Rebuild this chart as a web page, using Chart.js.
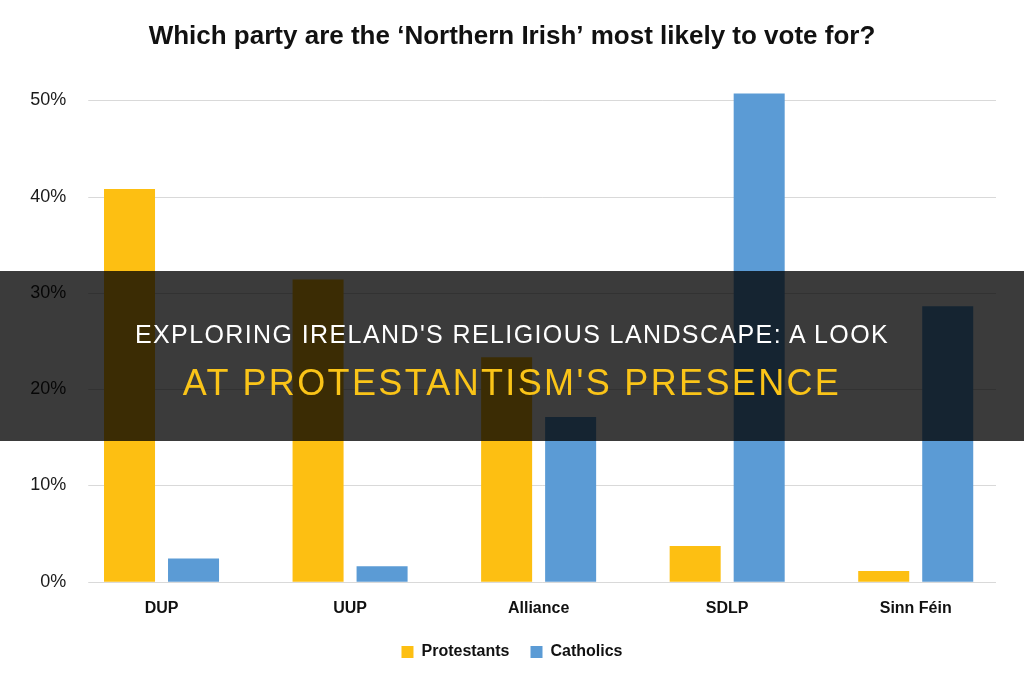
<!DOCTYPE html>
<html>
<head>
<meta charset="utf-8">
<script src="https://cdn.jsdelivr.net/npm/chart.js@4"></script>
<style>
  html, body { margin: 0; padding: 0; background: #fff; }
  #wrap { position: relative; width: 1024px; height: 680px; overflow: hidden; }
  #chart { display: block; }
  #banner {
    position: absolute; left: 0; top: 271px; width: 1024px; height: 170px;
    background: rgba(0, 0, 0, 0.77); text-align: center;
    font-family: "Liberation Sans", Arial, sans-serif;
  }
  #banner .l1 { position: absolute; left: 0; right: 0; top: 48px; color: #fff; font-size: 25px; line-height: 30px; letter-spacing: 1.4px; }
  #banner .l2 { position: absolute; left: 0; right: 0; top: 90px; color: #fac418; font-size: 36px; line-height: 44px; letter-spacing: 2.35px; }
</style>
</head>
<body>
<div id="wrap">
  <canvas id="chart" width="1024" height="680"></canvas>
  <div id="banner">
    <div class="l1">EXPLORING IRELAND'S RELIGIOUS LANDSCAPE: A LOOK</div>
    <div class="l2">AT PROTESTANTISM'S PRESENCE</div>
  </div>
</div>
<script>
  const parties = ["DUP", "UUP", "Alliance", "SDLP", "Sinn Féin"];
  const protestants = [40.8, 31.4, 23.3, 3.7, 1.1];
  const catholics = [2.4, 1.6, 17.1, 50.7, 28.6];
  const yTicks = [0, 10, 20, 30, 40, 50];

  const FONT = "'Liberation Sans', Arial, sans-serif";

  // horizontal gridlines, a bit shorter than the category area
  const gridPlugin = {
    id: "shortGrid",
    beforeDatasetsDraw(chart) {
      const { ctx, chartArea } = chart;
      const y = chart.scales.y;
      ctx.save();
      ctx.strokeStyle = "#d9d9d9";
      ctx.lineWidth = 1;
      yTicks.forEach((t) => {
        const py = Math.round(y.getPixelForValue(t)) + 0.5;
        ctx.beginPath();
        ctx.moveTo(chartArea.left + 21, py);
        ctx.lineTo(chartArea.right - 14, py);
        ctx.stroke();
      });
      ctx.restore();
    },
  };

  new Chart(document.getElementById("chart"), {
    type: "bar",
    data: {
      labels: parties,
      datasets: [
        { label: "Protestants", data: protestants, backgroundColor: "#fdbf12", clip: false },
        { label: "Catholics", data: catholics, backgroundColor: "#5b9bd5", clip: false },
      ],
    },
    plugins: [gridPlugin],
    options: {
      responsive: false,
      animation: false,
      categoryPercentage: 0.679,
      barPercentage: 0.797,
      layout: { padding: { left: 0, right: 0, top: 0, bottom: 10 } },
      scales: {
        x: {
          grid: { display: false, drawTicks: false },
          border: { display: false },
          afterFit(scale) { scale.height = 41.3; },
          ticks: {
            color: "#111",
            padding: 17.7,
            font: { family: FONT, size: 16, weight: "bold" },
          },
        },
        y: {
          min: 0,
          max: 50,
          grid: { display: false, drawTicks: false },
          border: { display: false },
          afterFit(scale) { scale.width = 67.25; },
          afterBuildTicks(scale) { scale.ticks = yTicks.map((v) => ({ value: v })); },
          ticks: {
            color: "#1a1a1a",
            padding: 1,
            callback: (v) => v + "%",
            font: { family: FONT, size: 18 },
          },
        },
        // empty spacer on the right so the plot ends before the canvas edge
        spacer: {
          type: "linear",
          position: "right",
          grid: { display: false, drawTicks: false },
          border: { display: false },
          ticks: { display: false },
          afterFit(scale) { scale.width = 14; },
        },
      },
      plugins: {
        title: {
          display: true,
          text: "Which party are the \u2018Northern Irish\u2019 most likely to vote for?",
          color: "#111",
          font: { family: FONT, size: 26, weight: "bold" },
          padding: { top: 20.9, bottom: 48.2 },
        },
        legend: {
          position: "bottom",
          labels: {
            color: "#111",
            boxWidth: 12,
            boxHeight: 12,
            padding: 21,
            font: { family: FONT, size: 16, weight: "bold" },
          },
        },
        tooltip: { enabled: false },
      },
    },
  });
</script>
</body>
</html>
